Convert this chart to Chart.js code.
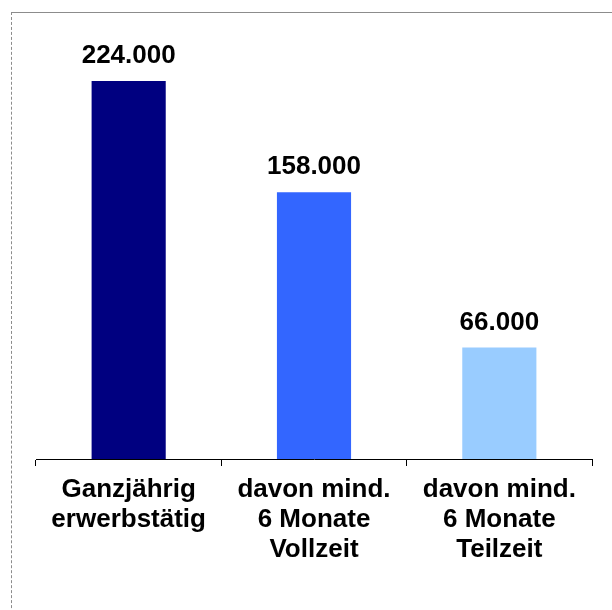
<!DOCTYPE html>
<html>
<head>
<meta charset="utf-8">
<script src="https://cdn.jsdelivr.net/npm/chart.js@4/dist/chart.umd.min.js"></script>
<style>
  html, body { margin: 0; padding: 0; background: #fff; }
  #wrap { position: relative; width: 612px; height: 610px; overflow: hidden; }
  #frame {
    position: absolute; left: 11px; top: 12px; width: 620px; height: 620px;
    border-top: 1px solid #8c8c8c; border-left: 1px dashed #8c8c8c;
  }
  #chart { position: absolute; left: 0; top: 0; }
</style>
</head>
<body>
<div id="wrap">
  <div id="frame"></div>
  <canvas id="chart" width="612" height="610"></canvas>
</div>
<script>
// data
const categories = [
  ['Ganzjährig', 'erwerbstätig'],
  ['davon mind.', '6 Monate', 'Vollzeit'],
  ['davon mind.', '6 Monate', 'Teilzeit'],
];
const values = [224000, 158000, 66000];
const barColors = ['#000080', '#3366FF', '#99CCFF'];

const FONT = "'Liberation Sans', Arial, sans-serif";

// German thousands separator: 224000 -> 224.000
function fmt(v) {
  return String(v).replace(/\B(?=(\d{3})+(?!\d))/g, '.');
}

const valueLabels = {
  id: 'valueLabels',
  afterDatasetsDraw(chart) {
    const ctx = chart.ctx;
    const meta = chart.getDatasetMeta(0);
    ctx.save();
    ctx.font = 'bold 26px ' + FONT;
    ctx.fillStyle = '#000';
    ctx.textAlign = 'center';
    ctx.textBaseline = 'alphabetic';
    meta.data.forEach((bar, i) => {
      ctx.fillText(fmt(values[i]), bar.x, bar.y - 18);
    });
    ctx.restore();
  },
};

new Chart(document.getElementById('chart'), {
  type: 'bar',
  data: {
    labels: categories,
    datasets: [{
      data: values,
      backgroundColor: barColors,
      borderWidth: 0,
      categoryPercentage: 1,
      barPercentage: 0.4,
    }],
  },
  options: {
    responsive: false,
    animation: false,
    layout: { padding: { left: 36, right: 20, top: 37, bottom: 0 } },
    plugins: {
      legend: { display: false },
      tooltip: { enabled: false },
    },
    scales: {
      x: {
        offset: true,
        grid: {
          display: true,
          offset: true,
          drawOnChartArea: false,
          drawTicks: true,
          tickLength: 7,
          color: '#000',
        },
        border: { display: true, color: '#000', width: 1 },
        ticks: {
          color: '#000',
          padding: 9,
          maxRotation: 0,
          autoSkip: false,
          font: { family: FONT, size: 26, weight: 'bold', lineHeight: '30px' },
        },
        afterFit(scale) { scale.height = 151; },
      },
      y: {
        display: false,
        min: 0,
        max: 250000,
      },
    },
  },
  plugins: [valueLabels],
});
</script>
</body>
</html>
